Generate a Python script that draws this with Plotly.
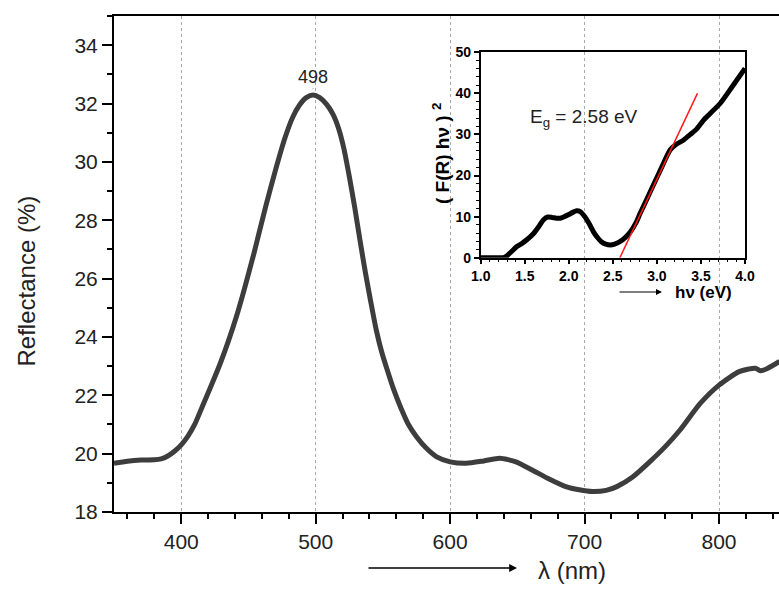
import plotly.graph_objects as go

# Main reflectance spectrum
wavelength_nm = [350, 360, 370, 380, 385, 390, 395, 400, 405, 410, 416, 422, 429, 435, 441, 447,
                 454, 463, 470, 477, 483, 488, 493, 498, 503, 508, 513, 517, 521, 525, 529, 533,
                 537, 541, 545, 549, 553, 558, 563, 569, 575, 582, 590, 600, 612, 625, 637, 649,
                 661, 674, 686, 696, 706, 716, 724, 736, 748, 760, 771, 786, 800, 815, 827, 831,
                 836, 845]
reflectance_pct = [19.67, 19.74, 19.78, 19.79, 19.82, 19.92, 20.08, 20.3, 20.6, 21.0, 21.65,
                   22.3, 23.09, 23.85, 24.69, 25.65, 26.85, 28.5, 29.7, 30.8, 31.54, 31.95, 32.2,
                   32.29, 32.2, 31.98, 31.62, 31.15, 30.45, 29.5, 28.45, 27.3, 26.2, 25.2, 24.25,
                   23.5, 22.9, 22.2, 21.61, 21.0, 20.58, 20.2, 19.89, 19.72, 19.67, 19.75, 19.84,
                   19.72, 19.44, 19.12, 18.87, 18.76, 18.70, 18.74, 18.87, 19.21, 19.7, 20.24,
                   20.81, 21.72, 22.35, 22.81, 22.93, 22.84, 22.92, 23.16]
peak_nm = 498
peak_val = 32.29

# Inset: Kubelka-Munk (F(R) hv)^2 vs hv
energy_ev = [1.0, 1.1, 1.2, 1.27, 1.3, 1.35, 1.41, 1.47, 1.52, 1.6, 1.66, 1.71, 1.76, 1.81, 1.86,
             1.9, 1.95, 2.0, 2.05, 2.09, 2.13, 2.18, 2.23, 2.28, 2.33, 2.37, 2.42, 2.47, 2.52, 2.58,
             2.64, 2.7, 2.76, 2.81, 2.88, 2.96, 3.05, 3.15, 3.22, 3.3, 3.38, 3.45, 3.53, 3.6, 3.72,
             3.85, 4.0]
fr_hv_sq = [0, 0, 0, 0.1, 0.5, 1.5, 2.7, 3.5, 4.3, 5.9, 7.6, 9.2, 9.9, 9.8, 9.6, 9.6, 10.0, 10.5,
            11.1, 11.4, 11.2, 10.0, 8.3, 6.3, 4.8, 3.9, 3.3, 3.1, 3.3, 3.9, 4.9, 6.3, 8.4, 10.8,
            14.0, 17.7, 21.8, 26.2, 27.6, 28.6, 30.0, 31.3, 33.5, 35.0, 37.6, 41.5, 46.1]
fit_x = [2.58, 3.46]
fit_y = [0, 40]
band_gap_label = "E<sub>g</sub> = 2.58 eV"

FONT = "Arial, Liberation Sans, sans-serif"

fig = go.Figure()
fig.add_trace(go.Scatter(x=wavelength_nm, y=reflectance_pct, mode="lines",
                         line=dict(color="#3d3d3d", width=5, shape="spline", smoothing=0.6),
                         showlegend=False, xaxis="x", yaxis="y"))
fig.add_trace(go.Scatter(x=energy_ev, y=fr_hv_sq, mode="lines",
                         line=dict(color="black", width=5, shape="spline", smoothing=0.7),
                         showlegend=False, xaxis="x2", yaxis="y2"))
fig.add_trace(go.Scatter(x=fit_x, y=fit_y, mode="lines",
                         line=dict(color="#ff1a1a", width=1.5),
                         showlegend=False, xaxis="x2", yaxis="y2"))

L, R, T, B = 114, 0, 16, 78
W, H = 779, 590
pw, ph = W - L - R, H - T - B


def px2paper_x(px):
    return (px - L) / pw


def px2paper_y(py):
    return (H - B - py) / ph


fig.update_layout(
    width=W, height=H, autosize=False,
    margin=dict(l=L, r=R, t=T, b=B, pad=0, autoexpand=False),
    paper_bgcolor="white", plot_bgcolor="rgba(0,0,0,0)",
    font=dict(family=FONT, color="#222"),
    xaxis=dict(domain=[0, 1], range=[350, 844.6], tickvals=[400, 500, 600, 700, 800],
               showline=True, linecolor="black", linewidth=2, mirror=True,
               ticks="outside", ticklen=10, tickwidth=2, tickcolor="black",
               tickfont=dict(size=21, color="#222"), automargin=False,
               showgrid=True, gridcolor="#a8a8a8", gridwidth=1, griddash="dot",
               minor=dict(dtick=20, tick0=0, ticks="outside", ticklen=5, tickwidth=2,
                          tickcolor="black", showgrid=False),
               zeroline=False),
    yaxis=dict(domain=[0, 1], range=[18, 35], tickvals=[18, 20, 22, 24, 26, 28, 30, 32, 34],
               showline=True, linecolor="black", linewidth=2,
               ticks="outside", ticklen=10, tickwidth=2, tickcolor="black",
               tickfont=dict(size=21, color="#222"), automargin=False,
               showgrid=False, zeroline=False,
               minor=dict(dtick=1, tick0=0, ticks="outside", ticklen=5, tickwidth=2,
                          tickcolor="black", showgrid=False)),
    xaxis2=dict(domain=[px2paper_x(480.7), px2paper_x(745)], anchor="y2",
                range=[1, 4], dtick=0.5, tick0=1, tickformat=".1f",
                showline=True, linecolor="black", linewidth=1.5, mirror=True,
                ticks="outside", ticklen=5, tickwidth=1.5, tickcolor="black",
                tickfont=dict(size=14, color="black", weight="bold"), automargin=False,
                showgrid=False, zeroline=False,
                minor=dict(dtick=0.1, tick0=1, ticks="outside", ticklen=3, tickwidth=1,
                           tickcolor="black", showgrid=False)),
    yaxis2=dict(domain=[px2paper_y(257.7), px2paper_y(52.3)], anchor="x2",
                range=[0, 50], dtick=10,
                showline=True, linecolor="black", linewidth=1.5, mirror=True,
                ticks="outside", ticklen=5, tickwidth=1.5, tickcolor="black",
                tickfont=dict(size=14, color="black", weight="bold"), automargin=False,
                showgrid=False, zeroline=False,
                minor=dict(dtick=2, tick0=0, ticks="outside", ticklen=3, tickwidth=1,
                           tickcolor="black", showgrid=False)),
)

C = dict(xanchor="center", yanchor="middle")
ann = []
# Peak label
ann.append(dict(x=peak_nm, y=32.5, xref="x", yref="y", text=str(peak_nm), showarrow=True,
                arrowhead=0, arrowwidth=1, arrowcolor="#555", ax=0, ay=-12,
                font=dict(size=18, color="#222", family=FONT)))
# Main y title
ann.append(dict(x=px2paper_x(26), y=px2paper_y(281.5), xref="paper", yref="paper",
                text="Reflectance (%)", textangle=-90, showarrow=False,
                font=dict(size=24, color="#222", family=FONT), **C))
# Main x title + arrow
ann.append(dict(x=px2paper_x(572), y=px2paper_y(570), xref="paper", yref="paper",
                text="λ (nm)", showarrow=False, font=dict(size=24, color="#222", family=FONT),
                **C))
ann.append(dict(x=px2paper_x(517), y=px2paper_y(568), xref="paper", yref="paper",
                ax=-150, ay=0, text="", showarrow=True, arrowhead=2, arrowsize=1.2,
                arrowwidth=1.3, arrowcolor="black"))
# Inset titles
ann.append(dict(x=px2paper_x(703), y=px2paper_y(292), xref="paper", yref="paper",
                text="hν (eV)", showarrow=False,
                font=dict(size=17, color="black", family=FONT, weight="bold"), **C))
ann.append(dict(x=px2paper_x(662), y=px2paper_y(292), xref="paper", yref="paper",
                ax=-44, ay=0, text="", showarrow=True, arrowhead=2, arrowsize=1,
                arrowwidth=1.2, arrowcolor="black"))
ann.append(dict(x=px2paper_x(441), y=px2paper_y(154), xref="paper", yref="paper",
                text="( F(R) hν ) <sup>2</sup>", textangle=-90, showarrow=False,
                font=dict(size=19, color="black", family=FONT, weight="bold"), **C))
ann.append(dict(x=2.17, y=34, xref="x2", yref="y2", text=band_gap_label, showarrow=False,
                font=dict(size=19, color="#222", family=FONT), **C))
fig.update_layout(annotations=ann)

reset_css = ("document.documentElement.style.margin='0';document.body.style.margin='0';"
             "document.body.style.padding='0';document.documentElement.style.overflow='hidden';"
             "document.body.style.overflow='hidden';")
fig.write_html("out.html", post_script=reset_css, config={"displayModeBar": False})
